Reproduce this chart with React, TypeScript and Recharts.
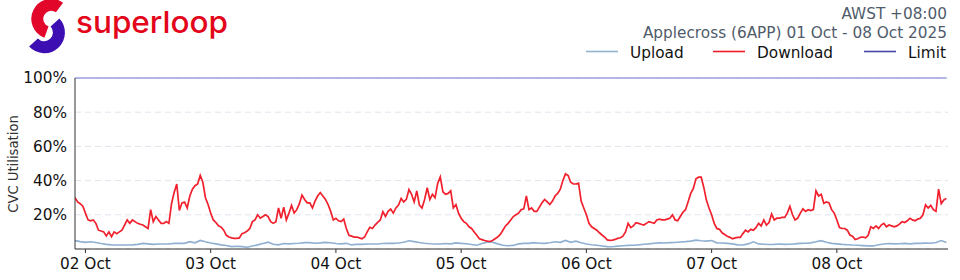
import { LineChart, Line, XAxis, YAxis, CartesianGrid } from 'recharts';

const FONT = '"DejaVu Sans", sans-serif';

// half-hourly download utilisation (%), 01 Oct 22:00 onwards
const downOct01 = [30, 27.5, 26.5, 25];
const downOct02 = [21, 17, 16.5, 17, 15, 11, 10.5, 10, 7.6, 10, 7.2, 10, 9, 10, 11, 14, 17, 15, 17, 16, 15, 14.5, 14, 13, 12, 23, 16, 19, 17, 15, 15, 16, 15, 26.5, 33, 38, 22.5, 27, 27.5, 24, 31, 35, 37, 38, 43, 39, 30, 26];
const downOct03 = [21, 17, 15.5, 13.6, 12.8, 11, 8, 7, 6.5, 6.2, 6.2, 6.5, 9, 9.5, 10.5, 12, 16, 17, 20, 18, 19, 20, 19, 16, 15, 16, 24, 18, 24.5, 17, 21, 25.5, 21, 23, 26.5, 31.5, 29, 27, 27, 24, 28, 31, 33, 31, 29, 26, 22, 17];
const downOct04 = [18, 16.5, 16, 17.5, 12, 8, 7.5, 7, 7, 6.5, 6, 7, 10, 12.7, 12, 14, 15.6, 17, 21.8, 19, 22, 23.4, 21, 24, 25.7, 29.6, 27.5, 29, 34.8, 32, 27.5, 34, 25.7, 24, 29, 35.8, 29, 32, 30, 38.3, 42.2, 33.5, 32, 32.5, 34, 24, 26, 21];
const downOct05 = [18, 16, 15, 13, 12, 10, 8, 6, 5.5, 5, 4.6, 4.4, 5, 6, 7, 8.5, 11, 13.5, 15, 17, 19, 20, 21, 23, 23.5, 31, 23, 24, 22, 22, 24.5, 27, 29, 27.5, 26, 28, 31, 32.5, 35, 40, 44, 43, 39, 38, 38, 38.5, 28, 24];
const downOct06 = [20, 15, 13, 12, 11, 9.5, 8.2, 7, 5.3, 5, 5.2, 5.6, 6.2, 6.6, 7.5, 10, 15, 12.5, 13.5, 15.4, 15, 14.5, 14, 15, 16, 15.5, 15, 17, 17.5, 17, 17, 17.5, 18, 20, 17, 16.5, 19, 21.5, 23, 27.6, 32.5, 35.4, 41, 42, 42, 36, 28.6, 24];
const downOct07 = [20, 15, 12, 11.5, 9.5, 8.5, 7.5, 6.8, 6, 6.5, 6.8, 6.8, 9, 11, 10, 11.5, 11, 12.5, 15, 13.5, 17, 14, 15.5, 20.5, 17, 18, 18, 18.5, 18.5, 21, 25, 20, 17, 18, 21, 23.5, 22, 23, 22.5, 23, 34, 31, 32, 26.7, 27.5, 27, 23, 21];
const downOct08 = [17, 12.5, 12, 12, 11, 8.2, 7.5, 5.5, 6, 6.8, 7, 6.5, 8, 13, 12, 13.5, 12, 14, 15, 13, 14, 13.5, 13, 13.5, 14.5, 16, 15.5, 16.5, 18, 17, 16.5, 17.5, 18, 20, 25.8, 24, 25.5, 23, 22, 35, 26.5, 28.7, 29.6];

// hourly upload utilisation (%), 01 Oct 22:00 onwards
const upOct01 = [4.9, 4.3];
const upOct02 = [3.9, 4.2, 3.8, 3.2, 2.7, 2.4, 2.3, 2.3, 2.3, 2.4, 2.7, 3.3, 3.0, 2.7, 2.9, 2.9, 2.9, 3.3, 3.3, 3.3, 4.3, 3.6, 5.0, 4.2];
const upOct03 = [3.5, 3.0, 2.4, 2.0, 1.4, 1.6, 1.4, 1.0, 1.8, 2.4, 3.2, 4.0, 2.8, 2.4, 3.2, 3.0, 3.2, 3.4, 3.7, 3.7, 3.4, 3.6, 3.9, 3.7];
const upOct04 = [3.2, 3.0, 3.3, 2.4, 2.8, 2.7, 2.9, 2.9, 2.9, 3.2, 3.3, 3.3, 3.5, 3.9, 4.8, 4.3, 3.8, 3.4, 3.1, 2.9, 2.9, 3.2, 3.0, 3.6];
const upOct05 = [3.3, 3.1, 2.6, 2.2, 3.2, 4.0, 4.0, 3.0, 2.2, 1.9, 2.1, 3.0, 3.3, 3.3, 3.7, 3.4, 3.3, 3.7, 4.2, 3.9, 5.0, 3.9, 4.6, 3.7];
const upOct06 = [2.9, 2.5, 2.2, 1.8, 1.4, 1.3, 1.7, 1.9, 2.1, 2.2, 2.4, 2.8, 3.0, 3.4, 3.6, 3.5, 3.7, 3.8, 4.1, 4.3, 4.6, 5.2, 4.8, 4.6];
const upOct07 = [5.0, 3.6, 3.5, 3.3, 3.0, 2.4, 2.3, 3.0, 4.2, 3.0, 2.8, 2.6, 2.7, 2.9, 2.7, 2.8, 3.0, 3.3, 3.4, 3.6, 4.2, 4.9, 4.0, 3.3];
const upOct08 = [3.0, 2.7, 2.5, 2.3, 2.2, 2.0, 1.8, 1.8, 2.5, 2.9, 3.2, 3.0, 3.1, 3.3, 3.0, 3.3, 3.3, 3.5, 3.4, 3.8, 4.9, 3.8];

const LIMIT = 100;
const dayTicks = [0, 24, 48, 72, 96, 120, 144];
const dayLabels = ['02 Oct', '03 Oct', '04 Oct', '05 Oct', '06 Oct', '07 Oct', '08 Oct'];
const yTicks = [20, 40, 60, 80, 100];

// hours relative to 02 Oct 00:00
function build(start: number, step: number, days: number[][]) {
  return days.flat().map((v, i) => ({ h: start + i * step, v }));
}

const download = build(-2, 0.5, [downOct01, downOct02, downOct03, downOct04, downOct05, downOct06, downOct07, downOct08]);
const upload = build(-2, 1, [upOct01, upOct02, upOct03, upOct04, upOct05, upOct06, upOct07, upOct08]);
const limit = [
  { h: download[0].h, v: LIMIT },
  { h: download[download.length - 1].h, v: LIMIT },
];

const legendItems = [
  { name: 'Upload', color: '#93b3cf', x: 586 },
  { name: 'Download', color: '#ee1c2b', x: 713 },
  { name: 'Limit', color: '#4646aa', x: 864 },
];

function Header() {
  return (
    <svg width={960} height={280} style={{ position: 'absolute', left: 0, top: 0, pointerEvents: 'none' }}>
      {/* logo mark */}
      <path d="M 59.5 7.5 A 14 14 0 1 0 46.5 32" fill="none" stroke="#e3062b" strokeWidth={12} />
      <path d="M 55 22.5 A 14 14 0 1 1 33.5 42.5" fill="none" stroke="#3d0fb2" strokeWidth={12} />
      <text x={76} y={33} fontFamily="Inter, sans-serif" fontWeight={500} fontSize={30} fill="#e3061b" textLength={152} lengthAdjust="spacingAndGlyphs">superloop</text>

      <g fontFamily={FONT} fontSize={15.3}>
        <text x={947} y={19} textAnchor="end" fill="#4f5b6b">AWST +08:00</text>
        <text x={947} y={38} textAnchor="end" fill="#4f5b6b">Applecross (6APP) 01 Oct - 08 Oct 2025</text>
        {legendItems.map(it => (
          <g key={it.name}>
            <line x1={it.x} x2={it.x + 32} y1={51.5} y2={51.5} stroke={it.color} strokeWidth={1.6} />
            <text x={it.x + 44} y={57.5} fill="#111">{it.name}</text>
          </g>
        ))}
      </g>
      <text transform="translate(18,164) rotate(-90)" textAnchor="middle" fontFamily={FONT} fontSize={13.2} fill="#333">CVC Utilisation</text>
    </svg>
  );
}

export default function App() {
  return (
    <div style={{ position: 'absolute', left: 0, top: 0, width: 960, height: 280, background: '#fff' }}>
      <LineChart width={960} height={280} margin={{ top: 78, right: 12, bottom: 0, left: 0 }}>
        <CartesianGrid vertical={false} stroke="#dde5ee" strokeDasharray="6 4" />
        <XAxis
          type="number"
          dataKey="h"
          domain={[-2, 165.3]}
          ticks={dayTicks}
          tickFormatter={(t: number) => dayLabels[dayTicks.indexOf(t)]}
          height={31}
          tickSize={4}
          tickMargin={5}
          stroke="#333"
          tick={{ fill: '#111', fontSize: 15.3, fontFamily: FONT }}
          allowDataOverflow
        />
        <YAxis
          type="number"
          domain={[0, 100]}
          ticks={yTicks}
          tickFormatter={(t: number) => `${t}%`}
          width={75}
          tickLine={false}
          stroke="#333"
          tick={{ fill: '#111', fontSize: 15.3, fontFamily: FONT }}
        />
        <Line data={limit} dataKey="v" stroke="#9da0dc" strokeWidth={1.5} dot={false} isAnimationActive={false} />
        <Line data={upload} dataKey="v" stroke="#8fb0d0" strokeWidth={1.6} dot={false} isAnimationActive={false} />
        <Line data={download} dataKey="v" stroke="#f0202d" strokeWidth={1.7} dot={false} isAnimationActive={false} />
      </LineChart>
      <Header />
    </div>
  );
}
